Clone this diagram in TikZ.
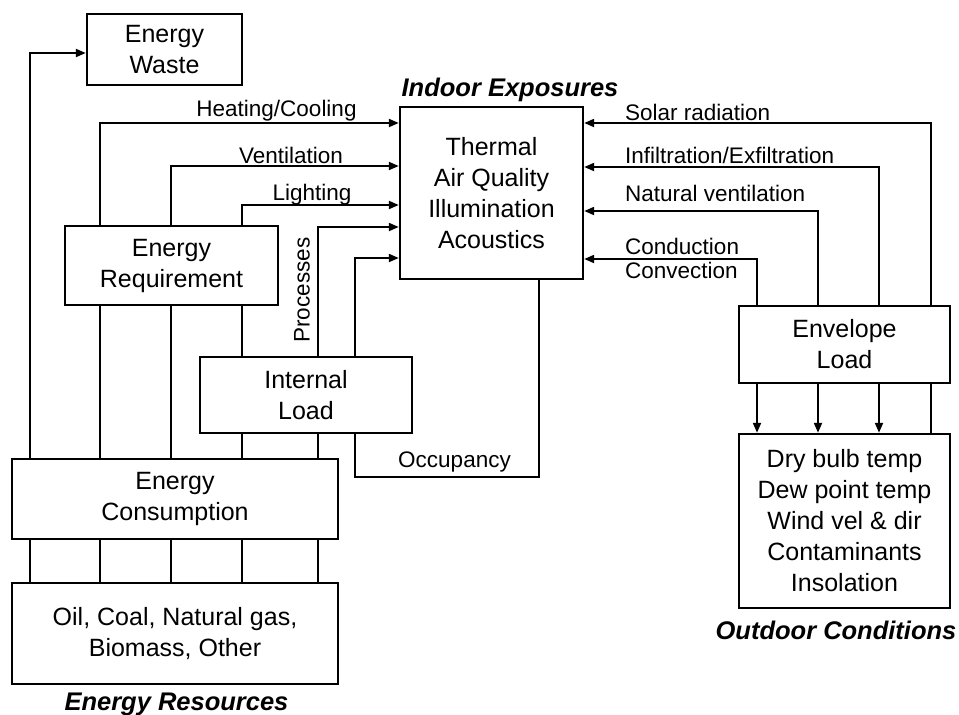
\documentclass[tikz,border=0pt]{standalone}
\usepackage{fontspec}
\setmainfont{Liberation Sans}
\usetikzlibrary{arrows.meta,backgrounds}
\begin{document}
\begin{tikzpicture}[x=1pt,y=-1pt,
  box/.style={draw, line width=2.4pt, fill=white, rectangle, inner sep=0pt,
    align=center, font=\fontsize{25}{31}\selectfont},
  link/.style={line width=2pt},
  feed/.style={link, -{Triangle[length=10pt,width=8pt]}},
  lbl/.style={anchor=base, inner sep=0pt, font=\fontsize{22.5}{27}\selectfont},
  heading/.style={anchor=base, inner sep=0pt,
    font=\fontsize{25.5}{30}\selectfont\bfseries\itshape},
]
\useasboundingbox (0,0) rectangle (959,715);

% boxes
\node[box, minimum width=155pt, minimum height=71pt]  (waste)   at (164.5,49.5) {Energy\\Waste};
\node[box, minimum width=183pt, minimum height=172pt] (thermal) at (491.5,193)  {Thermal\\Air Quality\\Illumination\\Acoustics};
\node[box, minimum width=213pt, minimum height=79pt]  (er)      at (171.5,265.5) {Energy\\Requirement};
\node[box, minimum width=212pt, minimum height=76pt]  (il)      at (306,395)    {Internal\\Load};
\node[box, minimum width=326pt, minimum height=80pt]  (cons)    at (175,499)    {Energy\\Consumption};
\node[box, minimum width=326pt, minimum height=101pt] (res)     at (175,633.5)  {Oil, Coal, Natural gas,\\Biomass, Other};
\node[box, minimum width=211pt, minimum height=77pt]  (env)     at (844.5,344.5) {Envelope\\Load};
\node[box, minimum width=211pt, minimum height=174pt] (out)     at (844.5,521)  {Dry bulb temp\\Dew point temp\\Wind vel \& dir\\Contaminants\\Insolation};

% bus columns and rows
\coordinate (xA) at (30,0);
\coordinate (xB) at (99.5,0);
\coordinate (xC) at (171,0);
\coordinate (xD) at (242,0);
\coordinate (xE) at (318,0);
\coordinate (xF) at (355,0);
\coordinate (xO) at (539,0);
\coordinate (xP) at (757,0);
\coordinate (xQ) at (818,0);
\coordinate (xR) at (879,0);
\coordinate (xS) at (931,0);
\coordinate (yWa) at (0,53);
\coordinate (yHC) at (0,123);
\coordinate (yVe) at (0,166);
\coordinate (yLi) at (0,205);
\coordinate (yPr) at (0,227);
\coordinate (yIn) at (0,258);
\coordinate (ySo) at (0,123);
\coordinate (yIf) at (0,167);
\coordinate (yNv) at (0,211);
\coordinate (yCo) at (0,259);
\coordinate (yOc) at (0,477);

\begin{scope}[on background layer]
  % energy flows on the left
  \draw[feed] (res.north -| xA) -- (xA |- yWa) -- (waste.west |- yWa);
  \draw[feed] (res.north -| xB) -- (xB |- yHC) -- (thermal.west |- yHC);
  \draw[feed] (res.north -| xC) -- (xC |- yVe) -- (thermal.west |- yVe);
  \draw[feed] (res.north -| xD) -- (xD |- yLi) -- (thermal.west |- yLi);
  \draw[feed] (res.north -| xE) -- (xE |- yPr) -- (thermal.west |- yPr);
  \draw[feed] (il.north -| xF) -- (xF |- yIn) -- (thermal.west |- yIn);
  \draw[link] (thermal.south -| xO) -- (xO |- yOc) -- (xF |- yOc) -- (il.south -| xF);
  % outdoor flows on the right
  \draw[feed] (out.north -| xS) -- (xS |- ySo) -- (thermal.east |- ySo);
  \draw[feed] (env.north -| xR) -- (xR |- yIf) -- (thermal.east |- yIf);
  \draw[feed] (env.north -| xQ) -- (xQ |- yNv) -- (thermal.east |- yNv);
  \draw[feed] (env.north -| xP) -- (xP |- yCo) -- (thermal.east |- yCo);
  \draw[feed] (env.south -| xP) -- (out.north -| xP);
  \draw[feed] (env.south -| xQ) -- (out.north -| xQ);
  \draw[feed] (env.south -| xR) -- (out.north -| xR);
\end{scope}

% flow labels
\node[lbl] (tHC) at (276.5,116) {Heating/Cooling};
\node[lbl] (tVe) at (291,163) {Ventilation};
\node[lbl] (tLi) at (312,200) {Lighting};
\node[lbl, anchor=center, rotate=90] (tPr) at (302,290) {Processes};
\node[lbl] (tOc) at (454.5,467) {Occupancy};
\node[lbl, anchor=base west] (tSo) at (625,120) {Solar radiation};
\node[lbl, anchor=base west] (tIf) at (625,163) {Infiltration/Exfiltration};
\node[lbl, anchor=base west] (tNv) at (625,201) {Natural ventilation};
\node[lbl, anchor=base west] (tCd) at (625,254) {Conduction};
\node[lbl, anchor=base west] (tCv) at (625,278) {Convection};

% group headings
\node[heading] (hIn)  at (510,96)  {Indoor Exposures};
\node[heading] (hRes) at (176.5,710) {Energy Resources};
\node[heading] (hOut) at (836,639) {Outdoor Conditions};
\end{tikzpicture}
\end{document}
